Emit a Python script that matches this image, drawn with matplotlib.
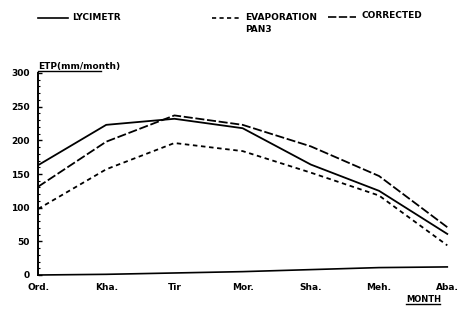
import matplotlib
matplotlib.use("Agg")
import matplotlib.pyplot as plt
from matplotlib.lines import Line2D
from matplotlib.ticker import MultipleLocator

months = ["Ord.", "Kha.", "Tir", "Mor.", "Sha.", "Meh.", "Aba."]
lycimetr = [163, 223, 232, 218, 164, 125, 61]
evaporation_pan = [98, 157, 196, 184, 152, 118, 44]
corrected = [131, 198, 237, 223, 191, 147, 71]
baseline = [0, 1, 3, 5, 8, 11, 12]
yticks = [0, 50, 100, 150, 200, 250, 300]

W, H = 459, 309
fig = plt.figure(figsize=(W / 100, H / 100), dpi=100)
fig.patch.set_facecolor("white")
ax = fig.add_axes([38 / W, 1 - 275 / H, 412 / W, 202 / H])

x = list(range(len(months)))
ax.plot(x, lycimetr, color="black", lw=1.3, ls="-")
ax.plot(x, evaporation_pan, color="black", lw=1.3, ls=(0, (2.5, 2)))
ax.plot(x, corrected, color="black", lw=1.3, ls=(0, (5, 1.5)))
ax.plot(x, baseline, color="black", lw=1.2, ls="-", clip_on=False)

ax.set_xlim(0, 6.04)
ax.set_ylim(0, 300)
ax.set_xticks(x)
ax.set_xticklabels(months)
ax.set_yticks(yticks)
ax.set_yticklabels([str(v) for v in yticks])
ax.yaxis.set_minor_locator(MultipleLocator(10))
for s in ["top", "right", "bottom"]:
    ax.spines[s].set_visible(False)
ax.spines["left"].set_linewidth(1.4)
ax.tick_params(axis="y", direction="in", length=3, width=1, labelsize=6.5, pad=6)
ax.tick_params(axis="y", which="minor", direction="in", length=1.5, width=0.8)
ax.tick_params(axis="x", length=0, labelsize=6.5, pad=5.5)
for lab in ax.get_xticklabels() + ax.get_yticklabels():
    lab.set_fontweight("bold")

def fx(px):
    return px / W

def fy(py):
    return 1 - py / H

tkw = dict(fontsize=6.5, fontweight="bold", color="black", va="center", ha="left")
# Legend
fig.add_artist(Line2D([fx(38), fx(68)], [fy(18), fy(18)], color="black", lw=1.2, ls="-"))
fig.text(fx(72), fy(18), "LYCIMETR", **tkw)
fig.add_artist(Line2D([fx(212), fx(240)], [fy(18), fy(18)], color="black", lw=1.2, ls=(0, (2.5, 2))))
fig.text(fx(245), fy(17), "EVAPORATION", **tkw)
fig.text(fx(245), fy(30), "PAN3", **tkw)
fig.add_artist(Line2D([fx(328), fx(356)], [fy(17), fy(17)], color="black", lw=1.2, ls=(0, (5, 1.5))))
fig.text(fx(362), fy(16), "CORRECTED", **tkw)

# Axis titles
fig.text(fx(38), fy(66), "ETP(mm/month)", **tkw)
fig.add_artist(Line2D([fx(38), fx(101)], [fy(71), fy(71)], color="black", lw=1))
mkw = dict(tkw)
mkw["fontsize"] = 6
fig.text(fx(406), fy(299), "MONTH", **mkw)
fig.add_artist(Line2D([fx(406), fx(440)], [fy(304), fy(304)], color="black", lw=1))

fig.savefig("out.png", dpi=100, facecolor="white")
